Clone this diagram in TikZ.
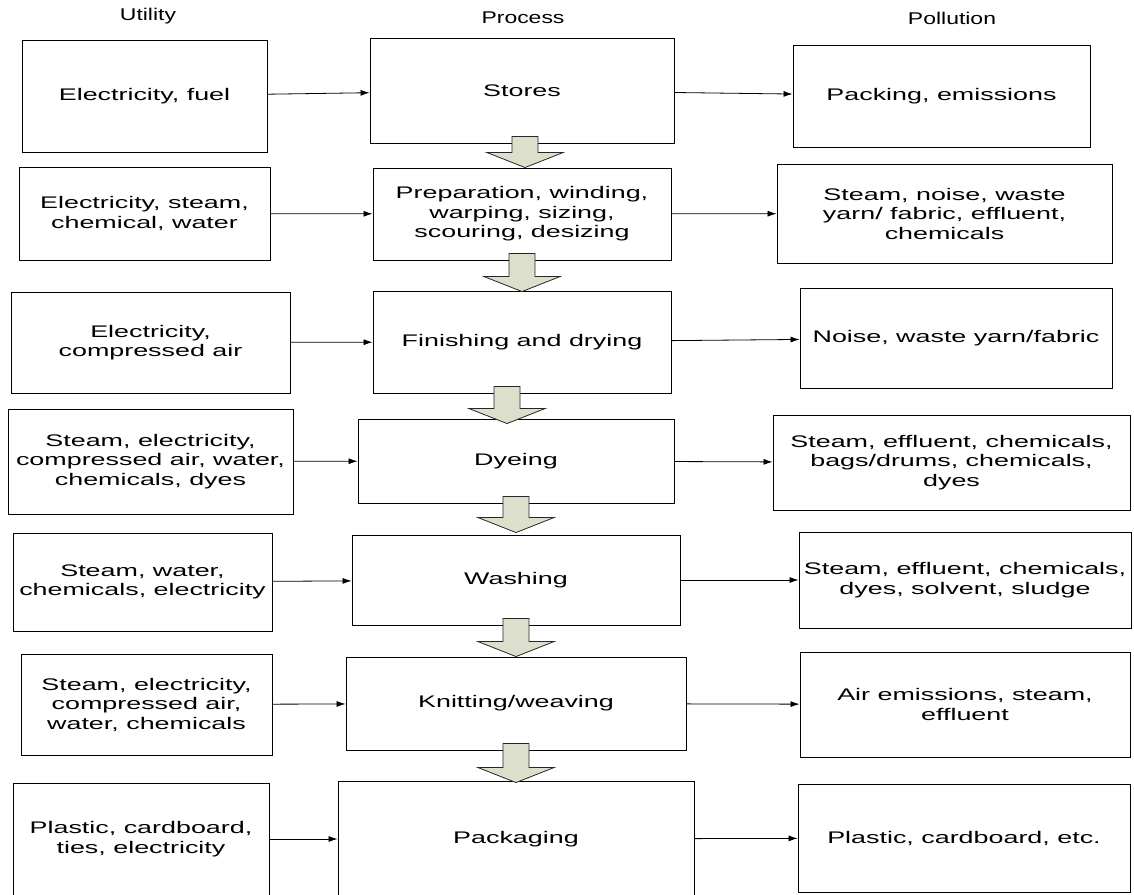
\documentclass[tikz,border=0pt]{standalone}
\usepackage{fontspec}
\setmainfont[FakeStretch=1.6]{Liberation Sans}
\newfontfamily\headfont[FakeStretch=1.35]{Liberation Sans}
\usepackage{xcolor}
\usetikzlibrary{
    arrows.meta,
    calc,
    positioning
}
\definecolor{arrowfill}{RGB}{220,223,204}
\tikzset{
    box/.style={draw, line width=0.9pt, align=center, inner sep=0pt,
        font=\fontsize{16.8}{19.5}\selectfont},
    heading/.style={font=\headfont\fontsize{17}{19}\selectfont},
    flow/.style={line width=0.8pt, -{Latex[length=9pt,width=6pt]}},
    bigarrow/.style={draw=black!85, line width=0.8pt, fill=arrowfill}
}
\newcommand{\blockarrow}[3]{%
    \draw[bigarrow] let \p1=(#1.south), \p2=($(#2.north)+(#3)$) in
        (\x2-13pt,\y1+7pt) -- (\x2+13pt,\y1+7pt) -- (\x2+13pt,\y2+15pt)
        -- (\x2+38pt,\y2+15pt) -- (\x2,\y2) -- (\x2-38pt,\y2+15pt)
        -- (\x2-13pt,\y2+15pt) -- cycle;
}

\begin{document}
\begin{tikzpicture}[x=1pt, y=-1pt]
    \useasboundingbox (0,0) rectangle (1134,894);
    \node[heading] (util) at (148, 16) {Utility};
    \node[heading] (proc) at (523, 18) {Process};
    \node[heading] (poll) at (952, 18) {Pollution};

    \node[box, minimum width=245, minimum height=112] (u1) at (144.5, 96) {Electricity, fuel};
    \node[box, minimum width=251, minimum height=93] (u2) at (144.5, 213.5) {Electricity, steam,\\chemical, water};
    \node[box, minimum width=279, minimum height=101] (u3) at (150.5, 342.5) {Electricity,\\compressed air};
    \node[box, minimum width=285, minimum height=105] (u4) at (150.5, 461.5) {Steam, electricity,\\compressed air, water,\\chemicals, dyes};
    \node[box, minimum width=259, minimum height=98] (u5) at (142.5, 582) {Steam, water,\\chemicals, electricity};
    \node[box, minimum width=251, minimum height=101] (u6) at (146.5, 704.5) {Steam, electricity,\\compressed air,\\water, chemicals};
    \node[box, minimum width=256, minimum height=112] (u7) at (141, 839) {Plastic, cardboard,\\ties, electricity};

    \node[box, minimum width=304, minimum height=105] (p1) at (522, 90.5) {Stores};
    \node[box, minimum width=298, minimum height=92] (p2) at (522, 214) {Preparation, winding,\\warping, sizing,\\scouring, desizing};
    \node[box, minimum width=298, minimum height=102] (p3) at (522, 342) {Finishing and drying};
    \node[box, minimum width=316, minimum height=84] (p4) at (516, 461) {Dyeing};
    \node[box, minimum width=328, minimum height=90] (p5) at (516, 580) {Washing};
    \node[box, minimum width=340, minimum height=93] (p6) at (516, 703.5) {Knitting/weaving};
    \node[box, minimum width=356, minimum height=116] (p7) at (516, 839) {Packaging};

    \node[box, minimum width=297, minimum height=102] (w1) at (941.5, 96) {Packing, emissions};
    \node[box, minimum width=335, minimum height=99] (w2) at (944.5, 213.5) {Steam, noise, waste\\yarn/ fabric, effluent,\\chemicals};
    \node[box, minimum width=312, minimum height=100] (w3) at (956, 338) {Noise, waste yarn/fabric};
    \node[box, minimum width=357, minimum height=95] (w4) at (951.5, 462.5) {Steam, effluent, chemicals,\\bags/drums, chemicals,\\dyes};
    \node[box, minimum width=332, minimum height=96] (w5) at (965, 580) {Steam, effluent, chemicals,\\dyes, solvent, sludge};
    \node[box, minimum width=330, minimum height=105] (w6) at (965, 704.5) {Air emissions, steam,\\effluent};
    \node[box, minimum width=332, minimum height=108] (w7) at (964, 838) {Plastic, cardboard, etc.};

    \foreach \i in {1,...,7} {
        \draw[flow] (u\i) -- (p\i);
        \draw[flow] (p\i) -- (w\i);
    }

    \blockarrow{p1}{p2}{3,0}
    \blockarrow{p2}{p3}{0,1}
    \blockarrow{p3}{p4}{-9,5}
    \blockarrow{p4}{p5}{0,-2}
    \blockarrow{p5}{p6}{0,0}
    \blockarrow{p6}{p7}{0,2}
\end{tikzpicture}
\end{document}
